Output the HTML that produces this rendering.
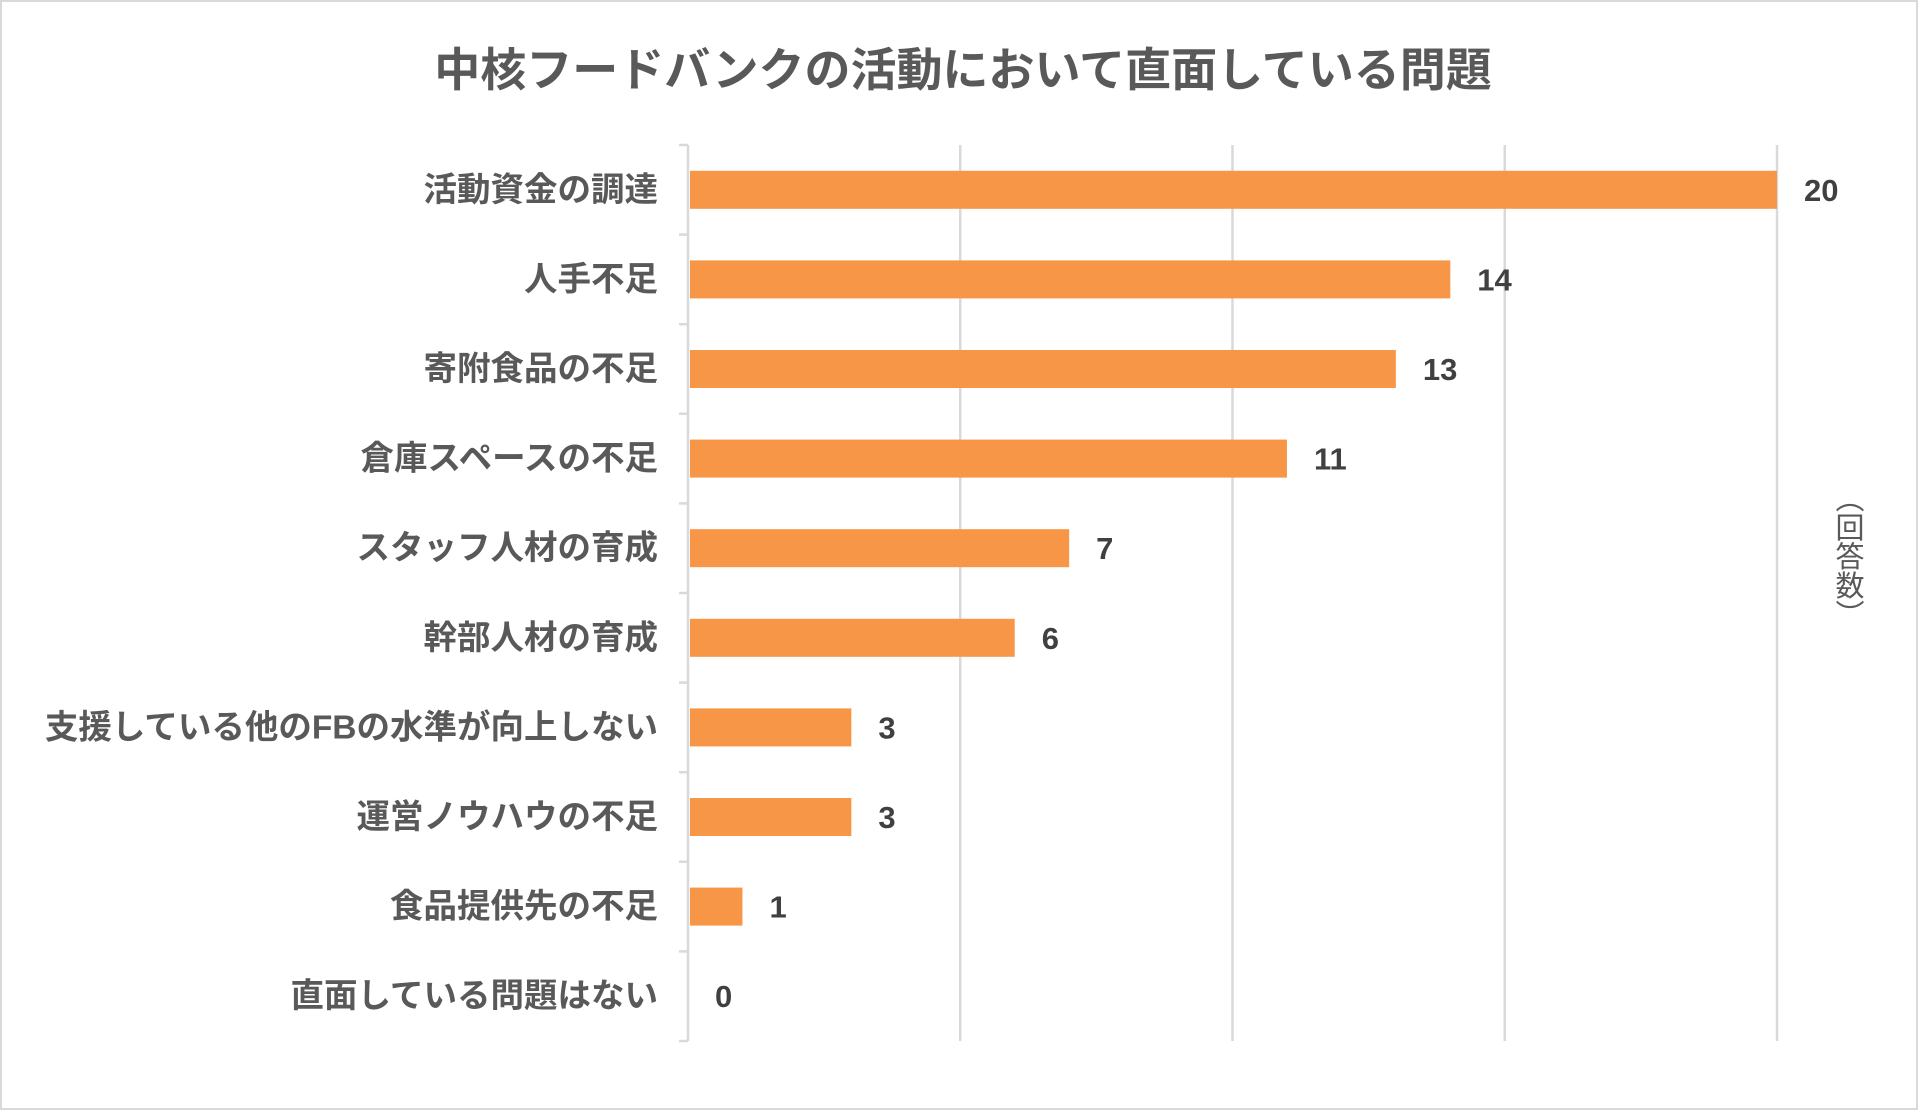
<!DOCTYPE html>
<html><head><meta charset="utf-8"><style>
html,body{margin:0;padding:0;background:#fff}
svg{display:block}
text{font-family:"Liberation Sans","Noto Sans CJK JP",sans-serif}
</style></head><body>
<svg id="chart" width="1920" height="1111" viewBox="0 0 1920 1111">
<rect x="1" y="1" width="1916" height="1108" fill="#fff" stroke="#d9d9d9" stroke-width="2"/>
<text x="963" y="86" text-anchor="middle" font-size="46" font-weight="bold" fill="#595959">中核フードバンクの活動において直面している問題</text>
<g id="grid"></g><g id="bars"></g><g id="labels"></g>
<text x="1847" y="556" text-anchor="middle" font-size="29" fill="#595959" style="writing-mode:vertical-rl;glyph-orientation-vertical:0">（回答数）</text>
</svg>
<script>
const categories=["活動資金の調達","人手不足","寄附食品の不足","倉庫スペースの不足","スタッフ人材の育成","幹部人材の育成","支援している他のFBの水準が向上しない","運営ノウハウの不足","食品提供先の不足","直面している問題はない"];
const values=[20,14,13,11,7,6,3,3,1,0];
const ticks=[0,5,10,15,20];
const NS="http://www.w3.org/2000/svg";
const x0=688,x1=1777,maxV=20,plotTop=145,plotBottom=1041;
const band=(plotBottom-plotTop)/categories.length;
const xs=v=>x0+(x1-x0)*v/maxV;
function mk(tag,attrs,parent){const e=document.createElementNS(NS,tag);for(const k in attrs)e.setAttribute(k,attrs[k]);parent.appendChild(e);return e;}
const g=document.getElementById('grid'),b=document.getElementById('bars'),l=document.getElementById('labels');
ticks.forEach(t=>{if(t===0)return;const ln=mk('line',{x1:xs(t),x2:xs(t),y1:plotTop,y2:plotBottom,stroke:'#d9d9d9','stroke-width':2.5},g);

});
const ax=mk('line',{x1:x0,x2:x0,y1:plotTop,y2:plotBottom,stroke:'#d9d9d9','stroke-width':2.5},g);


for(let i=0;i<=categories.length;i++){const tk=mk('line',{x1:x0-9,x2:x0,y1:plotTop+band*i,y2:plotTop+band*i,stroke:'#d9d9d9','stroke-width':2.5},g);

}
categories.forEach((c,i)=>{const cy=plotTop+band*(i+0.5);
const r=mk('rect',{x:x0+2,y:cy-19,width:Math.max(0,xs(values[i])-x0-2),height:38,fill:'#F79646'},b);


const t=mk('text',{x:658,y:cy+11,'text-anchor':'end','font-size':33.5,'font-weight':'bold',fill:'#595959'},l);t.textContent=c;


const v=mk('text',{x:xs(values[i])+27,y:cy+11,'font-size':31,'font-weight':'bold',fill:'#404040'},l);v.textContent=values[i];

});
</script>
</body></html>
